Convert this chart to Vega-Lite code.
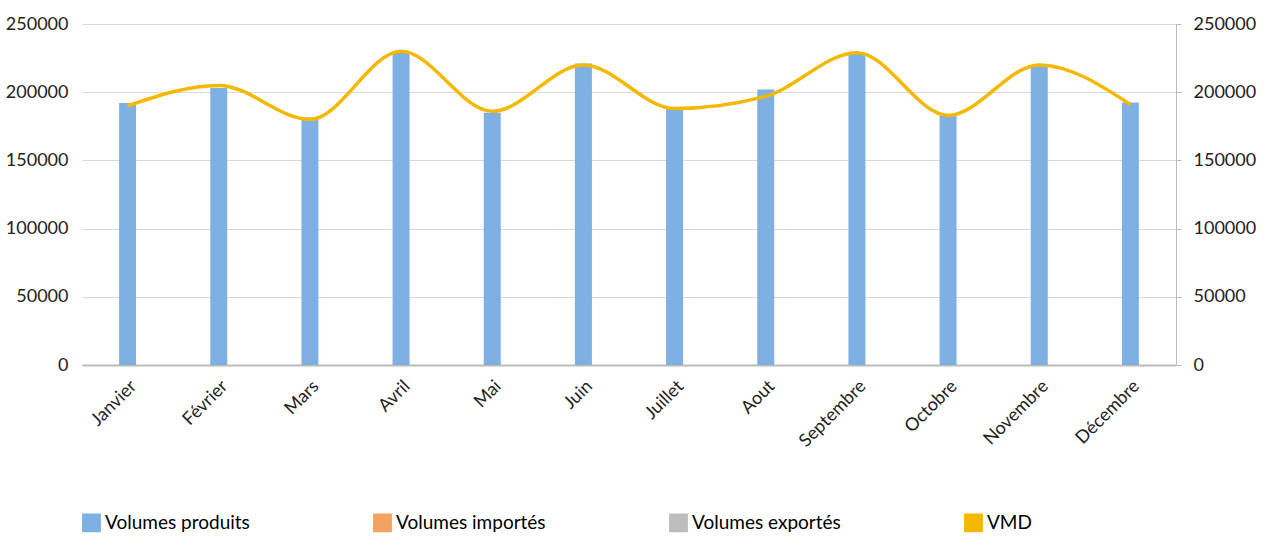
{
  "$schema": "https://vega.github.io/schema/vega-lite/v6.json",
  "width": 1266,
  "height": 540,
  "autosize": {"type": "fit", "contains": "padding"},
  "padding": {"left": 5, "right": 10, "top": 15, "bottom": 5},
  "config": {
    "font": "Lato",
    "view": {"stroke": null},
    "axis": {"labelFont": "Lato", "labelFontSize": 18, "labelColor": "#222", "titleFontSize": 0}
  },
  "data": {"values": [
    {"mois": "Janvier", "prod": 192000, "vmd": 190000},
    {"mois": "Février", "prod": 203000, "vmd": 205000},
    {"mois": "Mars", "prod": 181500, "vmd": 180000},
    {"mois": "Avril", "prod": 230000, "vmd": 230000},
    {"mois": "Mai", "prod": 185000, "vmd": 186000},
    {"mois": "Juin", "prod": 221000, "vmd": 220000},
    {"mois": "Juillet", "prod": 189000, "vmd": 188000},
    {"mois": "Aout", "prod": 202000, "vmd": 197000},
    {"mois": "Septembre", "prod": 229000, "vmd": 229000},
    {"mois": "Octobre", "prod": 183000, "vmd": 183000},
    {"mois": "Novembre", "prod": 220000, "vmd": 220000},
    {"mois": "Décembre", "prod": 192500, "vmd": 191000}
  ]},
  "encoding": {
    "x": {"field": "mois", "type": "nominal", "sort": null, "title": null,
      "axis": {"labelAngle": -45, "domainColor": "#bbb", "domainWidth": 2, "ticks": false, "labelPadding": 12}}
  },
  "layer": [
    {
      "mark": {"type": "bar", "width": 17},
      "encoding": {
        "y": {"field": "prod", "type": "quantitative", "title": null,
          "scale": {"domain": [0, 250000]},
          "axis": {"tickCount": 5, "format": "d", "domain": false, "ticks": false, "gridColor": "#d9d9d9", "labelPadding": 14}},
        "color": {"datum": "Volumes produits", "type": "nominal",
          "scale": {"domain": ["Volumes produits", "Volumes importés", "Volumes exportés", "VMD"],
            "range": ["#7fb0e3", "#f4a261", "#bdbdbd", "#f5b800"]},
          "legend": {"orient": "bottom", "title": null, "direction": "horizontal", "columns": 4,
            "columnPadding": 120, "labelFontSize": 19, "symbolType": "square", "symbolSize": 300, "offset": 62, "padding": 0}}
      }
    },
    {
      "mark": {"type": "line", "interpolate": "monotone", "strokeWidth": 3.5},
      "encoding": {
        "y": {"field": "vmd", "type": "quantitative", "title": null,
          "scale": {"domain": [0, 250000]},
          "axis": {"orient": "right", "tickCount": 5, "format": "d", "grid": false, "domainColor": "#bbb", "tickColor": "#bbb", "labelPadding": 12}},
        "color": {"datum": "VMD", "type": "nominal"}
      }
    }
  ],
  "resolve": {"scale": {"y": "independent"}}
}
